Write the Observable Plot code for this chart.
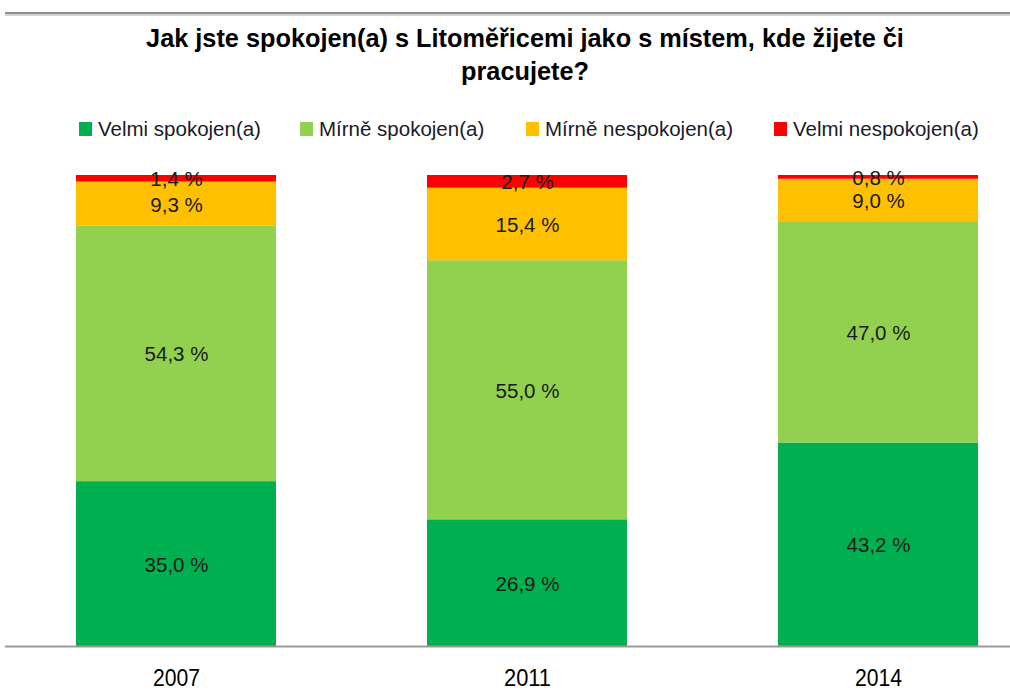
<!DOCTYPE html>
<html>
<head>
<meta charset="utf-8">
<script src="https://cdn.jsdelivr.net/npm/d3@7"></script>
<script src="https://cdn.jsdelivr.net/npm/@observablehq/plot@0.6"></script>
<style>
  html, body { margin: 0; padding: 0; background: #fff; }
  #wrap { position: relative; width: 1010px; height: 691px; overflow: hidden; font-family: "Liberation Sans Narrow", "Liberation Sans", sans-serif; }
  #topline { position: absolute; left: 5px; right: 0; top: 12px; height: 0; border-top: 2px solid #8f8f8f; border-bottom: 2px solid #d4d4d4; }
  #title { position: absolute; left: 0; width: 1050px; top: 22px; text-align: center; font-weight: bold; font-size: 25.3px; line-height: 33px; color: #000; }
  #legend { position: absolute; left: 0; top: 117px; width: 1010px; height: 24px; font-size: 20.5px; color: #1a1a2a; white-space: nowrap; }
  #legend .item { position: absolute; top: 0; display: flex; align-items: center; gap: 6px; height: 24px; }
  #legend .sw { width: 13px; height: 14px; display: inline-block; }
  #chart { position: absolute; left: 0; top: 160px; }
</style>
</head>
<body>
<div id="wrap">
  <div id="topline"></div>
  <div id="title">Jak jste spokojen(a) s Litoměřicemi jako s místem, kde žijete či<br>pracujete?</div>
  <div id="legend"></div>
  <div id="chart"></div>
</div>
<script>
const years = ["2007", "2011", "2014"];
const categories = ["Velmi spokojen(a)", "Mírně spokojen(a)", "Mírně nespokojen(a)", "Velmi nespokojen(a)"];
const velmiSpokojen = [35.0, 26.9, 43.2];
const mirneSpokojen = [54.3, 55.0, 47.0];
const mirneNespokojen = [9.3, 15.4, 9.0];
const velmiNespokojen = [1.4, 2.7, 0.8];
const colors = ["#00B050", "#92D050", "#FFC000", "#FF0000"];
const legendLeft = [79, 300, 526, 774];

const series = [velmiSpokojen, mirneSpokojen, mirneNespokojen, velmiNespokojen];
const rows = [];
years.forEach((year, i) => {
  categories.forEach((category, j) => {
    rows.push({year, category, value: series[j][i]});
  });
});

const fmt = v => v.toFixed(1).replace(".", ",") + " %";

// legend
const legend = document.getElementById("legend");
categories.forEach((c, i) => {
  const item = document.createElement("div");
  item.className = "item";
  item.style.left = legendLeft[i] + "px";
  const sw = document.createElement("span");
  sw.className = "sw";
  sw.style.background = colors[i];
  const t = document.createElement("span");
  t.textContent = c;
  item.appendChild(sw);
  item.appendChild(t);
  legend.appendChild(item);
});

const chart = Plot.plot({
  width: 1010,
  height: 531,
  marginTop: 15,
  marginBottom: 45,
  marginLeft: 5,
  marginRight: 0,
  style: { fontFamily: "'Liberation Sans Narrow', 'Liberation Sans', sans-serif", background: "#fff" },
  x: { domain: years, paddingInner: 0.431, paddingOuter: 0.145, align: 0.686, label: null },
  y: { domain: [0, 100], axis: null },
  color: { domain: categories, range: colors },
  marks: [
    Plot.barY(rows, Plot.stackY({ x: "year", y: "value", z: "category", fill: "category", order: categories })),
    Plot.ruleY([0], { stroke: "#9a9a9a", strokeWidth: 2 }),
    Plot.text(rows, Plot.stackY({ x: "year", y: "value", z: "category", order: categories, text: d => fmt(d.value), fill: "#1a1a1a", fontSize: 20.5, dy: 1 })),
    Plot.axisX({ tickSize: 0, tickPadding: 23, fontSize: 23, fill: "#000", label: null })
  ]
});
d3.select(chart).selectAll("[aria-label='x-axis tick label'] text")
  .attr("textLength", 47).attr("lengthAdjust", "spacingAndGlyphs");
document.getElementById("chart").appendChild(chart);
</script>
</body>
</html>
